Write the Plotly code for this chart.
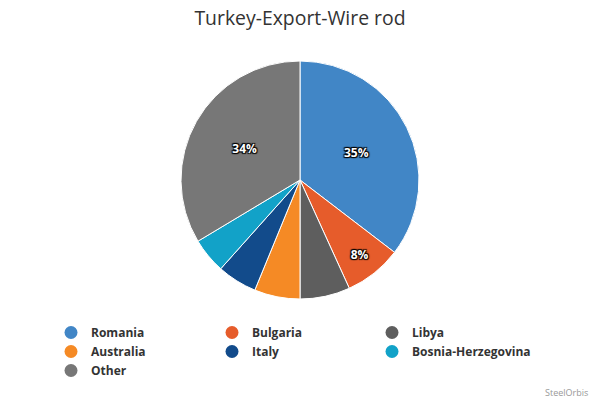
import plotly.graph_objects as go

countries = ["Romania", "Bulgaria", "Libya", "Australia", "Italy", "Bosnia-Herzegovina", "Other"]
shares = [35.4, 7.8, 6.8, 6.2, 5.4, 4.8, 33.6]
slice_labels = ["35%", "8%", "", "", "", "", "34%"]
colors = ["#4186C6", "#E65C2B", "#5E5E5E", "#F58A25", "#124B8B", "#12A2C8", "#777777"]
legend_columns = ["legend", "legend2", "legend3", "legend", "legend2", "legend3", "legend"]

fig = go.Figure()
fig.add_trace(go.Pie(
    labels=countries, values=shares, text=slice_labels,
    textinfo="text", textposition="inside", insidetextorientation="horizontal",
    sort=False, direction="clockwise", rotation=0,
    marker=dict(colors=colors, line=dict(color="white", width=1)),
    textfont=dict(family="Open Sans", size=12, color="white", weight="bold",
                  shadow="1px 1px 1px #000, -1px -1px 1px #000, 1px -1px 1px #000, -1px 1px 1px #000"),
    domain=dict(x=[181/600, 419/600], y=[1-299/400, 1-61/400]),
    showlegend=False, hoverinfo="label+percent",
))
for c, col, lg in zip(countries, colors, legend_columns):
    fig.add_trace(go.Scatter(x=[None], y=[None], mode="markers", name=c, legend=lg,
                             marker=dict(color=col, size=13, symbol="circle")))

legend_font = dict(family="Open Sans", size=12, color="#333333", weight="bold")
def leg(xpix):
    return dict(orientation="v", x=xpix/600, y=1-318/400, xanchor="left", yanchor="top",
                traceorder="normal", font=legend_font, bgcolor="rgba(0,0,0,0)",
                itemclick=False, itemdoubleclick=False)

fig.update_layout(
    width=600, height=400,
    margin=dict(l=0, r=0, t=0, b=0),
    paper_bgcolor="white", plot_bgcolor="white",
    xaxis=dict(visible=False), yaxis=dict(visible=False),
    title=dict(text="Turkey-Export-Wire rod", x=0.5, xanchor="center", y=1-18/400, yanchor="middle",
               font=dict(family="Open Sans", size=19.4, color="#333333")),
    legend=leg(51), legend2=leg(212), legend3=leg(372),
    annotations=[dict(text="SteelOrbis", x=590/600, y=1-392/400, xref="paper", yref="paper",
                      xanchor="right", yanchor="middle", showarrow=False,
                      font=dict(family="Open Sans", size=9, color="#999999"))],
)
fig.write_html("out.html", config={"displayModeBar": False},
               post_script="document.body.style.margin='0';")
